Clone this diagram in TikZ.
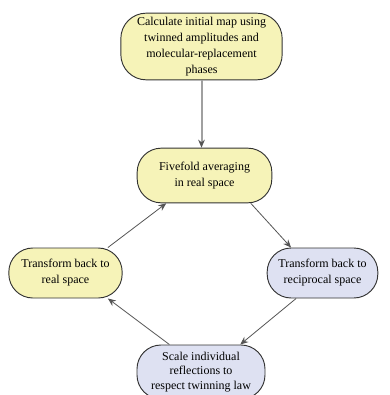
\documentclass[tikz,border=0pt]{standalone}
\usepackage{fontspec}
\setmainfont{Liberation Serif}
\usetikzlibrary{arrows.meta}
\definecolor{boxyellow}{HTML}{F6F3B8}
\definecolor{boxblue}{HTML}{DEE1F2}
\definecolor{edgedark}{HTML}{333333}
\definecolor{linedark}{HTML}{555555}
\definecolor{linegray}{HTML}{A0A0A0}
\tikzset{
  stepbox/.style={draw=edgedark, line width=0.7pt, rounded corners=18pt, align=center,
    inner sep=2pt, font=\fontsize{9}{12}\selectfont},
  ybox/.style={stepbox, fill=boxyellow},
  bbox/.style={stepbox, fill=boxblue},
  conn/.style={draw=linedark, line width=0.6pt, -{Stealth[length=6pt,width=5pt]}},
}
\begin{document}
\begin{tikzpicture}[x=0.75pt,y=-0.75pt]
\clip (0,0) rectangle (389,395);
\fill[white] (0,0) rectangle (389,395);
\node[ybox, rounded corners=19pt, minimum width=121pt, minimum height=50pt] (top) at (201.5,46.5)
  {Calculate initial map using\\twinned amplitudes and\\molecular-replacement\\phases};
\node[ybox, minimum width=101pt, minimum height=41pt] (five) at (204.5,175.5)
  {Fivefold averaging\\in real space};
\node[ybox, minimum width=85pt, minimum height=37.5pt] (left) at (65.5,273)
  {Transform back to\\real space};
\node[bbox, minimum width=83pt, minimum height=37.5pt] (right) at (322.5,273)
  {Transform back to\\reciprocal space};
\node[bbox, minimum width=96pt, minimum height=40.5pt, font=\fontsize{9}{11}\selectfont] (bottom) at (201,372)
  {Scale individual\\reflections to\\respect twinning law};
\draw[draw=linegray, line width=1.5pt, -{Stealth[length=6pt,width=5pt,fill=linedark,color=linedark]}]
  (top.south) -- (top.south |- five.north);
\draw[conn] (five.-31) -- (right.141);
\draw[conn] (right.224) -- (bottom.35);
\draw[conn] (bottom.139) -- (left.-31);
\draw[conn] (left.31) -- (five.216);
\end{tikzpicture}
\end{document}
